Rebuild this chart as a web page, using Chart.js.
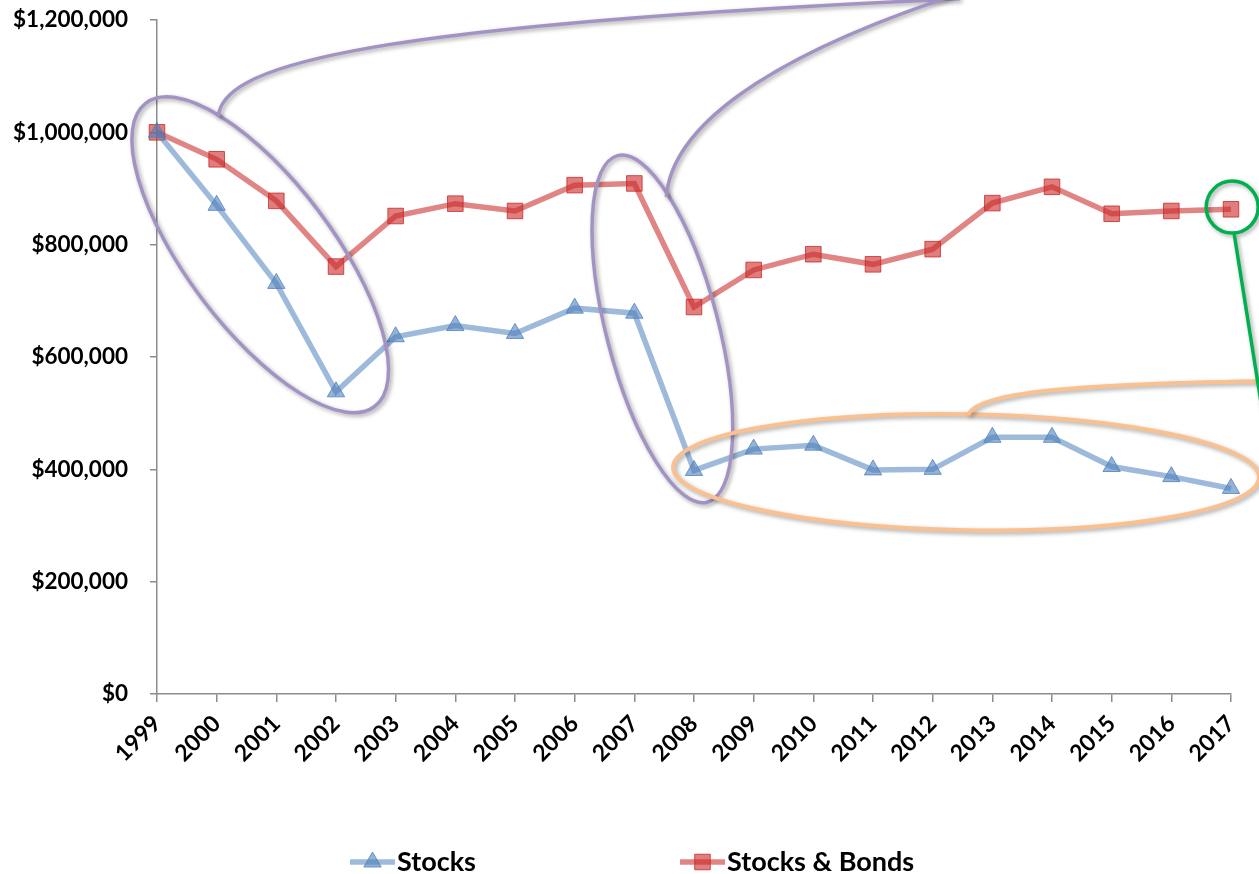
<!DOCTYPE html>
<html>
<head>
<meta charset="utf-8">
<script src="https://cdn.jsdelivr.net/npm/chart.js@4"></script>
<style>
  html, body { margin: 0; padding: 0; background: #fff; }
  canvas { display: block; }
</style>
</head>
<body>
<canvas id="chartCanvas" width="1259" height="874"></canvas>
<script>
// values
const years = ['1999', '2000', '2001', '2002', '2003', '2004', '2005', '2006', '2007', '2008',
               '2009', '2010', '2011', '2012', '2013', '2014', '2015', '2016', '2017'];
const stocks = [1000000, 870000, 731000, 538000, 636000, 656000, 642000, 687000, 678000, 398000,
                436000, 443000, 399000, 400000, 457000, 457000, 405000, 387000, 366000];
const stocksBonds = [1000000, 952000, 878000, 761000, 851000, 873000, 860000, 906000, 909000, 689000,
                     755000, 783000, 765000, 792000, 874000, 903000, 855000, 860000, 863000];
const yTicks = [0, 200000, 400000, 600000, 800000, 1000000, 1200000];

const FONT = 'Lato, "Open Sans", sans-serif';

// callout shapes, centred on chart values (x = year index, y = dollars)
const callouts = [
  { x: 1.73, y: 782000, a: 190, b: 73, rot: 53, color: '#A393C4', width: 3.5,
    tail: [[-42, -138], [-38, -185], [70, -228], [700, -256]] },
  { x: 8.47, y: 650000, a: 179, b: 56, rot: 75.5, color: '#A393C4', width: 3.5,
    tail: [[4, -132], [9, -199], [97, -269], [290, -333]] },
  { x: 13.56, y: 395000, a: 293, b: 58, rot: 1, color: '#FAC090', width: 4,
    tail: [[2, -57], [9, -77], [84, -88], [299, -91]] },
  { x: 18.02, y: 867000, a: 26, b: 26, rot: 0, color: '#00B050', width: 3.5,
    tail: [[2, 27], [30, 203]] }
];

const calloutPlugin = {
  id: 'callouts',
  afterDatasetsDraw(chart) {
    const ctx = chart.ctx;
    const xs = chart.scales.x, ys = chart.scales.y;
    callouts.forEach(c => {
      const cx = xs.getPixelForValue(c.x);
      const cy = ys.getPixelForValue(c.y);
      ctx.save();
      ctx.strokeStyle = c.color;
      ctx.lineWidth = c.width;
      ctx.shadowColor = 'rgba(0,0,0,0.35)';
      ctx.shadowBlur = 4;
      ctx.shadowOffsetX = 2;
      ctx.shadowOffsetY = 2;
      ctx.beginPath();
      ctx.ellipse(cx, cy, c.a, c.b, c.rot * Math.PI / 180, 0, Math.PI * 2);
      ctx.stroke();
      const t = c.tail;
      ctx.beginPath();
      ctx.moveTo(cx + t[0][0], cy + t[0][1]);
      if (t.length === 4) {
        ctx.bezierCurveTo(cx + t[1][0], cy + t[1][1], cx + t[2][0], cy + t[2][1], cx + t[3][0], cy + t[3][1]);
      } else {
        ctx.lineTo(cx + t[1][0], cy + t[1][1]);
      }
      ctx.stroke();
      ctx.restore();
    });
  }
};

// legend: line + marker + label, like the office chart
const legendPlugin = {
  id: 'lineLegend',
  afterDraw(chart) {
    const ctx = chart.ctx;
    const y = 862;
    const items = [{ ds: 0, x: 350 }, { ds: 1, x: 680 }];
    items.forEach(it => {
      const ds = chart.data.datasets[it.ds];
      const mx = it.x + 22.5;
      ctx.save();
      ctx.strokeStyle = ds.borderColor;
      ctx.lineWidth = ds.borderWidth;
      ctx.beginPath();
      ctx.moveTo(it.x, y);
      ctx.lineTo(it.x + 45, y);
      ctx.stroke();
      ctx.fillStyle = ds.pointBackgroundColor;
      ctx.strokeStyle = ds.pointBorderColor;
      ctx.lineWidth = ds.pointBorderWidth;
      ctx.beginPath();
      if (ds.pointStyle === 'rect') {
        const s = Math.SQRT1_2 * ds.pointRadius;
        ctx.rect(mx - s, y - s, 2 * s, 2 * s);
      } else {
        const r = ds.pointRadius;
        ctx.moveTo(mx, y - r);
        ctx.lineTo(mx + r * Math.sin(2 * Math.PI / 3), y + r / 2);
        ctx.lineTo(mx - r * Math.sin(2 * Math.PI / 3), y + r / 2);
        ctx.closePath();
      }
      ctx.fill();
      ctx.stroke();
      ctx.fillStyle = '#000';
      ctx.font = 'bold 27px ' + FONT;
      ctx.textBaseline = 'middle';
      ctx.textAlign = 'left';
      ctx.fillText(ds.label, it.x + 47, y);
      ctx.restore();
    });
  }
};

const ctx = document.querySelector('#chartCanvas');

const chart = new Chart(ctx, {
  type: 'line',
  data: {
    labels: years,
    datasets: [
      {
        label: 'Stocks',
        data: stocks,
        borderColor: 'rgba(79,129,189,0.55)',
        borderWidth: 5.5,
        pointStyle: 'triangle',
        pointRadius: 10,
        pointBorderWidth: 1,
        pointBackgroundColor: 'rgba(79,129,189,0.6)',
        pointBorderColor: 'rgba(79,129,189,0.8)',
        tension: 0
      },
      {
        label: 'Stocks & Bonds',
        data: stocksBonds,
        borderColor: 'rgba(204,50,50,0.6)',
        borderWidth: 5.5,
        pointStyle: 'rect',
        pointRadius: 11,
        pointBorderWidth: 1,
        pointBackgroundColor: 'rgba(204,40,40,0.6)',
        pointBorderColor: 'rgba(204,40,40,0.8)',
        tension: 0
      }
    ]
  },
  options: {
    responsive: false,
    animation: false,
    devicePixelRatio: 1,
    layout: { padding: { top: 20, right: 28, left: 0, bottom: 0 } },
    plugins: {
      legend: { display: false },
      tooltip: { enabled: false }
    },
    scales: {
      x: {
        offset: false,
        afterFit: s => { s.height = 180; s.paddingLeft = 0; s.paddingRight = 0; },
        border: { color: '#8c8c8c', width: 1.5 },
        grid: { drawOnChartArea: false, drawTicks: true, tickLength: 8, color: '#8c8c8c', lineWidth: 1.5 },
        ticks: {
          color: '#000',
          font: { family: FONT, size: 23, weight: 'bold' },
          minRotation: 45,
          maxRotation: 45,
          autoSkip: false,
          padding: 8
        }
      },
      y: {
        min: 0,
        max: 1200000,
        afterFit: s => { s.width = 157; s.paddingTop = 0; s.paddingBottom = 0; },
        afterBuildTicks: s => { s.ticks = yTicks.map(v => ({ value: v })); },
        border: { color: '#8c8c8c', width: 1.5 },
        grid: { drawOnChartArea: false, drawTicks: true, tickLength: 7, color: '#8c8c8c', lineWidth: 1.5 },
        ticks: {
          color: '#000',
          font: { family: FONT, size: 22.5, weight: 'bold' },
          padding: 22,
          callback: v => '$' + Number(v).toLocaleString('en-US')
        }
      }
    }
  },
  plugins: [calloutPlugin, legendPlugin]
});
</script>
</body>
</html>
